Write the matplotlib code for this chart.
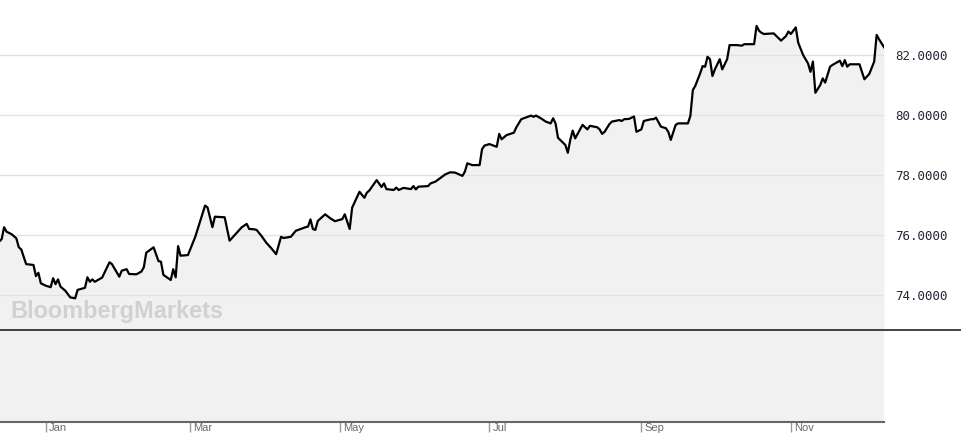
import numpy as np
import matplotlib
matplotlib.use("Agg")
import matplotlib.pyplot as plt
from matplotlib.lines import Line2D
from matplotlib.transforms import ScaledTranslation

# days counted from Jan 1 (negative = previous December)
days = [-19, -18, -17, -16, -14, -12, -11, -10, -8, -5, -4, -3, -2, 0, 2, 3, 4, 5, 6, 8,
        10, 12, 13, 16, 17, 18, 19, 20, 23, 26, 27, 30, 31, 33,
        34, 37, 39, 40, 41, 44, 46, 47, 48, 51, 52, 53, 54, 55, 58, 61, 65, 66, 68, 69,
        73, 75, 80, 82, 83, 85,
        86, 88, 90, 92, 94, 96, 97, 100, 102, 106, 107, 108, 109, 110, 111, 114, 116, 118,
        121, 122, 124, 125, 128, 130, 131, 132, 135,
        137, 138, 139, 142, 143, 144, 146, 149, 150, 151, 152, 156, 157, 159, 163, 165, 167,
        170, 171, 172, 174, 177, 178, 179, 181, 184, 185, 186, 188,
        191, 192, 194, 196, 198, 199, 200, 202, 204, 206, 207, 208, 209, 211, 212, 213, 214,
        215, 216, 219, 221, 222, 225, 226, 227, 228, 230, 231, 234, 235, 236, 238, 240,
        241, 243, 244, 247, 248, 249, 251, 253, 254, 255, 257, 258, 262, 263, 264, 265, 267,
        268, 269, 270, 271, 272, 273, 275, 276, 278, 279, 282, 284, 285, 289, 290, 291,
        292, 293, 297, 300, 302, 303, 304, 306, 307, 309, 311, 312, 313, 314, 316, 317, 318,
        320, 321, 324, 325, 326, 327, 328, 332, 334, 336, 338, 339, 340, 342]

price = [75.78, 75.86, 76.26, 76.11, 76.03, 75.89, 75.59, 75.52, 75.03, 75.00, 74.63, 74.74,
         74.39, 74.31, 74.26, 74.56, 74.36, 74.52, 74.28, 74.14, 73.92, 73.89, 74.17, 74.24,
         74.59, 74.44, 74.52, 74.44, 74.58, 75.09, 75.03, 74.61, 74.81, 74.86,
         74.70, 74.69, 74.78, 74.92, 75.41, 75.59, 75.13, 75.11, 74.67, 74.50, 74.86, 74.59,
         75.63, 75.31, 75.33, 75.94, 76.98, 76.92, 76.26, 76.61, 76.59, 75.81, 76.26, 76.37,
         76.20, 76.19,
         76.17, 75.97, 75.74, 75.56, 75.36, 75.94, 75.90, 75.94, 76.14, 76.26, 76.28, 76.52,
         76.20, 76.17, 76.47, 76.69, 76.56, 76.46, 76.53, 76.69, 76.20, 76.91, 77.44, 77.24,
         77.41, 77.48, 77.83,
         77.60, 77.72, 77.53, 77.50, 77.58, 77.50, 77.57, 77.53, 77.63, 77.52, 77.61, 77.63,
         77.72, 77.78, 78.02, 78.09, 78.08, 77.97, 78.11, 78.39, 78.33, 78.33, 78.86, 78.98,
         79.03, 78.94, 79.37, 79.19, 79.33,
         79.41, 79.59, 79.86, 79.92, 79.98, 79.94, 79.98, 79.89, 79.78, 79.72, 79.89, 79.72,
         79.24, 79.08, 79.00, 78.74, 79.17, 79.48, 79.22, 79.67, 79.52, 79.64, 79.59, 79.52,
         79.37, 79.44, 79.70, 79.78, 79.83, 79.80, 79.86, 79.87, 79.95,
         79.44, 79.52, 79.80, 79.86, 79.86, 79.91, 79.61, 79.56, 79.44, 79.17, 79.67, 79.72,
         79.72, 79.97, 80.83, 80.97, 81.39, 81.63, 81.61, 81.94, 81.86, 81.30, 81.52, 81.86,
         81.52, 81.86, 82.33, 82.33, 82.31, 82.36, 82.36, 82.97, 82.81,
         82.74, 82.70, 82.72, 82.48, 82.63, 82.78, 82.70, 82.92, 82.41, 82.00, 81.72, 81.44,
         81.78, 80.74, 81.00, 81.22, 81.08, 81.61, 81.67, 81.81, 81.63, 81.83, 81.61, 81.69,
         81.69, 81.19, 81.37, 81.78, 82.67, 82.52, 82.26]

y_ticks = [74, 76, 78, 80, 82]
month_names = ["Jan", "Mar", "May", "Jul", "Sep", "Nov"]
month_starts = ["2014-01-01", "2014-03-01", "2014-05-01", "2014-07-01", "2014-09-01", "2014-11-01"]

dates = np.datetime64("2014-01-01") + np.array(days)
months = np.array(month_starts, dtype="datetime64[D]")

W, H = 962, 443
fig = plt.figure(figsize=(W / 100, H / 100), dpi=100)

x_left = np.datetime64("2014-01-01") - np.timedelta64(18, "D") - np.timedelta64(16, "h")
x_right = dates[-1]

# main price panel
ax = fig.add_axes([0, 1 - 330 / H, 884 / W, 330 / H])
ax.fill_between(dates, price, 70, color="#f1f1f1", lw=0, zorder=1)
ax.plot(dates, price, color="black", lw=1.6, zorder=3)
ax.set_xlim(x_left, x_right)
ax.set_ylim(72.833, 83.833)
ax.set_yticks(y_ticks)
ax.set_yticklabels(["%.4f" % v for v in y_ticks])
ax.yaxis.tick_right()
ax.tick_params(axis="y", length=0, pad=8, labelsize=9, labelcolor="#262636")
for lbl in ax.get_yticklabels():
    lbl.set_fontfamily("DejaVu Sans Mono")
ax.set_xticks([])
ax.grid(axis="y", color="#e2e2e2", lw=1, zorder=2)
for s in ax.spines.values():
    s.set_visible(False)
ax.text(10 / 884, 1 - 318 / 330, "BloombergMarkets", transform=ax.transAxes,
        fontsize=16.9, fontweight="bold", family="Liberation Sans", color="#d1d1d1",
        va="baseline", ha="left", zorder=2)

# empty lower panel with month axis
ax2 = fig.add_axes([0, 1 - 422 / H, 884 / W, 92 / H])
ax2.set_facecolor("#f1f1f1")
ax2.set_xlim(x_left, x_right)
ax2.set_yticks([])
ax2.set_xticks(months)
ax2.set_xticklabels(month_names)
ax2.tick_params(axis="x", direction="out", length=7.5, width=1, color="#999999",
                pad=-7, labelsize=8, labelcolor="#6a6a6a")
for lbl in ax2.get_xticklabels():
    lbl.set_horizontalalignment("left")
    lbl.set_fontfamily("Liberation Sans")
    lbl.set_transform(lbl.get_transform() + ScaledTranslation(3 / 100, 0, fig.dpi_scale_trans))
for name in ["top", "left", "right"]:
    ax2.spines[name].set_visible(False)
ax2.spines["bottom"].set_color("#666666")
ax2.spines["bottom"].set_linewidth(1.5)

# separator between panels, across the whole width
fig.add_artist(Line2D([0, 1], [1 - 330 / H, 1 - 330 / H], transform=fig.transFigure,
                      color="#111111", lw=1.1))

fig.savefig("out.png", dpi=100)
